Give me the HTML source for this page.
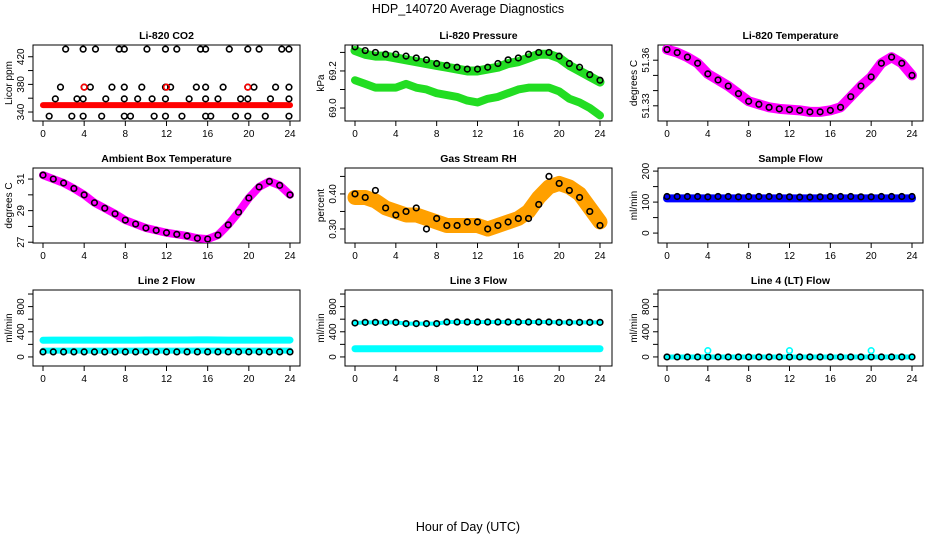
<!DOCTYPE html>
<html><head><meta charset="utf-8"><style>
html,body{margin:0;padding:0;background:#fff;}
svg text{font-family:"Liberation Sans",sans-serif;}
</style></head><body>
<svg id="chart" width="936" height="540" viewBox="0 0 936 540" xmlns="http://www.w3.org/2000/svg">
<text x="468" y="13" text-anchor="middle" font-size="12.5">HDP_140720  Average Diagnostics</text>
<text x="468" y="531" text-anchor="middle" font-size="12.5">Hour of Day (UTC)</text>
</svg>
<script>
// ---- data ----
const hourTicks = [0,4,8,12,16,20,24];
const hours = [0,1,2,3,4,5,6,7,8,9,10,11,12,13,14,15,16,17,18,19,20,21,22,23,24];

const co2Band = [350,350,350,350,350,350,350,350,350,350,350,350,350,350,350,350,350,350,350,350,350,350,350,350,350];
const co2HighHours = [2.2,3.9,5.1,7.4,7.9,10.1,11.9,13,15.3,15.8,18.1,19.9,21,23.2,23.9];
const co2HighVals = [431,431,431,431,431,431,431,431,431,431,431,431,431,431,431];
const co2MidHours = [1.7,4.0,4.6,6.7,7.9,9.6,11.9,12.4,14.9,15.8,17.5,19.9,20.5,22.6,23.9];
const co2MidVals = [376,376,376,376,376,376,376,376,376,376,376,376,376,376,376];
const co2LowHours = [1.2,3.3,3.9,6.1,7.9,9.2,10.6,11.9,14.2,15.8,17,19.2,19.9,22.1,23.9];
const co2LowVals = [359,359,359,359,359,359,359,359,359,359,359,359,359,359,359];
const co2MinHours = [0.6,2.8,3.9,5.7,7.9,8.5,10.8,11.9,13.5,15.8,16.3,18.7,19.9,21.6,23.9];
const co2MinVals = [334,334,334,334,334,334,334,334,334,334,334,334,334,334,334];
const co2RedHours = [4.0,12.0,19.9];
const co2RedVals = [376,376,376];

const pressUpper = [69.31,69.29,69.28,69.28,69.27,69.26,69.25,69.24,69.23,69.22,69.21,69.20,69.20,69.21,69.22,69.24,69.25,69.27,69.29,69.29,69.27,69.23,69.20,69.17,69.14];
const pressLower = [69.15,69.13,69.11,69.11,69.11,69.13,69.11,69.10,69.08,69.07,69.06,69.04,69.03,69.05,69.06,69.08,69.10,69.11,69.11,69.11,69.09,69.05,69.03,69.00,68.96];
const pressDots = [69.33,69.31,69.30,69.29,69.29,69.28,69.27,69.26,69.24,69.23,69.22,69.21,69.21,69.22,69.24,69.26,69.27,69.29,69.30,69.30,69.28,69.24,69.22,69.18,69.15];

const liTemp = [51.367,51.365,51.362,51.358,51.351,51.347,51.343,51.338,51.333,51.331,51.329,51.328,51.3275,51.327,51.326,51.326,51.327,51.329,51.336,51.343,51.349,51.358,51.362,51.358,51.350];
const ambTemp = [31.25,31.0,30.75,30.4,30.0,29.5,29.15,28.8,28.4,28.15,27.9,27.75,27.6,27.5,27.4,27.25,27.2,27.45,28.1,28.9,29.8,30.5,30.85,30.6,30.0];
const rhBand = [0.39,0.39,0.38,0.36,0.35,0.34,0.34,0.33,0.32,0.31,0.31,0.31,0.31,0.30,0.31,0.32,0.33,0.35,0.39,0.42,0.43,0.42,0.40,0.36,0.32];
const rhDots = [0.40,0.39,0.41,0.36,0.34,0.35,0.36,0.30,0.33,0.31,0.31,0.32,0.32,0.30,0.31,0.32,0.33,0.33,0.37,0.45,0.43,0.41,0.39,0.35,0.31];

const sampleBand = [112,112,112,112,112,112,112,112,112,112,112,112,112,112,112,112,112,112,112,112,112,112,112,112,112];
const sampleDots = [118,118,118,118,117,118,118,117,118,118,118,118,117,116,116,117,118,118,118,117,117,118,118,118,118];

const l2Upper = [265,268,268,268,268,268,268,268,268,268,270,270,270,270,270,272,272,270,268,268,268,268,268,268,268];
const l2LowerCyan = [100,100,100,100,100,100,100,100,100,100,100,100,100,100,100,100,100,100,100,100,100,100,100,100,100];
const l2Dots = [80,80,80,80,80,80,80,80,80,80,80,80,80,80,80,80,80,80,80,80,80,80,80,80,80];

const l3Dots = [540,550,550,550,550,530,530,530,530,555,555,555,555,555,555,555,555,555,555,555,550,550,550,550,550];
const l3Lower = [130,130,130,130,130,130,130,130,130,130,130,130,130,130,130,130,130,130,130,130,130,130,130,130,130];

const l4Dots = [0,0,0,0,0,0,0,0,0,0,0,0,0,0,0,0,0,0,0,0,0,0,0,0,0];
const l4OutHours = [4,12,20];
const l4OutVals = [100,100,100];

// ---- layout ----
const NS = "http://www.w3.org/2000/svg";
const svg = document.getElementById('chart');
const cols = [{bx:33,bw:267,x0:43,x24:290},{bx:345,bw:267,x0:355,x24:600},{bx:658,bw:265,x0:667,x24:912}];
const rows = [{by:45,bh:76},{by:168,bh:75},{by:290,bh:76}];

function el(tag, attrs, parent){
  const e=document.createElementNS(NS,tag);
  for(const k in attrs) e.setAttribute(k,attrs[k]);
  (parent||svg).appendChild(e); return e;
}

function makePanel(r,c,title,ytitle,ymin,ymax,ticks,labels,name){
  const C=cols[c],R=rows[r];
  const g=el('g',{});
  
  
  const xs=h=>C.x0+(h/24)*(C.x24-C.x0);
  const ys=v=>R.by+R.bh-(v-ymin)/(ymax-ymin)*R.bh;
  const t=el('text',{x:C.bx+C.bw/2,y:R.by-6,'text-anchor':'middle','font-size':'10.5','font-weight':'bold'},g);
  t.textContent=title;
  
  
  const box=el('rect',{x:C.bx,y:R.by,width:C.bw,height:R.bh,fill:'none',stroke:'#000','stroke-width':1},g);
  
  
  const bottom=R.by+R.bh;
  hourTicks.forEach(h=>{
    el('line',{x1:xs(h),x2:xs(h),y1:bottom,y2:bottom+5,stroke:'#000'},g);
    const lt=el('text',{x:xs(h),y:bottom+16,'text-anchor':'middle','font-size':'10'},g);
    lt.textContent=h;
    
    
  });
  ticks.forEach((v,i)=>{
    const y=ys(v);
    el('line',{x1:C.bx-5,x2:C.bx,y1:y,y2:y,stroke:'#000'},g);
    if(labels[i]!==''){
      const lt=el('text',{x:0,y:0,'text-anchor':'middle','font-size':'10',transform:`translate(${C.bx-9},${y}) rotate(-90)`},g);
      lt.textContent=labels[i];
      
      
    }
  });
  const yt=el('text',{x:0,y:0,'text-anchor':'middle','font-size':'10',transform:`translate(${C.bx-21},${R.by+R.bh/2}) rotate(-90)`},g);
  yt.textContent=ytitle;
  
  
  const clip='clip'+r+c;
  const cp=el('clipPath',{id:clip},g);
  el('rect',{x:C.bx,y:R.by,width:C.bw,height:R.bh},cp);
  const dg=el('g',{'clip-path':`url(#${clip})`},g);
  return {
    band(hs,vals,color,w,nm){
      const p=el('polyline',{points:hs.map((h,i)=>xs(h)+','+ys(vals[i])).join(' '),fill:'none',stroke:color,'stroke-width':w,'stroke-linecap':'round','stroke-linejoin':'round'},dg);
      
      
    },
    dots(hs,vals,color,nm){
      hs.forEach((h,i)=>{
        const d=el('circle',{cx:xs(h),cy:ys(vals[i]),r:2.8,fill:'none',stroke:color,'stroke-width':1.6},dg);
        
        
      });
    }
  };
}

let p;
p=makePanel(0,0,'Li-820 CO2','Licor ppm',327,437,[340,360,380,400,420],['340','','380','','420'],'co2');
p.band(hours,co2Band,'#ff0000',6,'co2-band');
p.dots(co2HighHours,co2HighVals,'#000','co2-point');
p.dots(co2MidHours,co2MidVals,'#000','co2-point');
p.dots(co2RedHours,co2RedVals,'#ff0000','co2-red-point');
p.dots(co2LowHours,co2LowVals,'#000','co2-point');
p.dots(co2MinHours,co2MinVals,'#000','co2-point');

p=makePanel(0,1,'Li-820 Pressure','kPa',68.93,69.34,[69.0,69.1,69.2,69.3],['69.0','','69.2',''],'pressure');
p.band(hours,pressUpper,'#22dd22',9,'pressure-upper-band');
p.band(hours,pressLower,'#22dd22',8,'pressure-lower-band');
p.dots(hours,pressDots,'#000','pressure-point');

p=makePanel(0,2,'Li-820 Temperature','degrees C',51.32,51.37,[51.33,51.34,51.35,51.36],['51.33','','','51.36'],'li-temp');
p.band(hours,liTemp,'#ff00ff',10,'li-temp-band');
p.dots(hours,liTemp,'#000','li-temp-point');

p=makePanel(1,0,'Ambient Box Temperature','degrees C',26.95,31.7,[27,28,29,30,31],['27','','29','','31'],'ambient');
p.band(hours,ambTemp,'#ff00ff',8,'ambient-band');
p.dots(hours,ambTemp,'#000','ambient-point');

p=makePanel(1,1,'Gas Stream RH','percent',0.26,0.474,[0.30,0.35,0.40,0.45],['0.30','','0.40',''],'rh');
p.band(hours,rhBand,'#ffa000',15,'rh-band');
p.dots(hours,rhDots,'#000','rh-point');

p=makePanel(1,2,'Sample Flow','ml/min',-32,210,[0,50,100,150,200],['0','','100','','200'],'sample-flow');
p.band(hours,sampleBand,'#0000ff',8,'sample-flow-band');
p.dots(hours,sampleDots,'#000','sample-flow-point');

const flowTicks=[0,200,400,600,800,1000], flowLabels=['0','','400','','800',''];
p=makePanel(2,0,'Line 2 Flow','ml/min',-144,1064,flowTicks,flowLabels,'line2-flow');
p.band(hours,l2Upper,'#00ffff',7,'line2-upper-band');
p.band(hours,l2LowerCyan,'#00ffff',6,'line2-lower-band');
p.dots(hours,l2Dots,'#000','line2-point');

p=makePanel(2,1,'Line 3 Flow','ml/min',-144,1064,flowTicks,flowLabels,'line3-flow');
p.band(hours,l3Dots,'#00ffff',4,'line3-upper-band');
p.dots(hours,l3Dots,'#000','line3-point');
p.band(hours,l3Lower,'#00ffff',7,'line3-lower-band');

p=makePanel(2,2,'Line 4 (LT) Flow','ml/min',-144,1064,flowTicks,flowLabels,'line4-flow');
p.band(hours,l4Dots,'#00ffff',5,'line4-band');
p.dots(hours,l4Dots,'#000','line4-point');
p.dots(l4OutHours,l4OutVals,'#00ffff','line4-outlier');
</script>
</body></html>
